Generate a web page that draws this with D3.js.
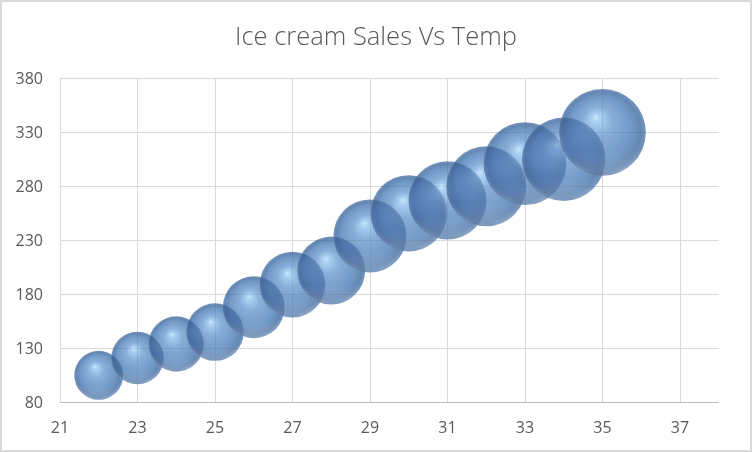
<!DOCTYPE html>
<html>
<head>
<meta charset="utf-8">
<script src="https://cdn.jsdelivr.net/npm/d3@7"></script>
<style>
  body { margin: 0; background: #fff; }
  svg { display: block; }
  .bubble-shade { mix-blend-mode: multiply; }
</style>
</head>
<body>
<script>
// ice cream data: temperature vs sales, bubble size = sales
const temps = [22, 23, 24, 25, 26, 27, 28, 29, 30, 31, 32, 33, 34, 35];
const sales = [105, 121, 134, 145, 168, 189, 202, 234, 255, 267, 280, 301, 305, 330];
const xTicks = [21, 23, 25, 27, 29, 31, 33, 35, 37];
const yTicks = [80, 130, 180, 230, 280, 330, 380];
const title = "Ice cream Sales Vs Temp";

const width = 752, height = 452;
const margin = {top: 78.3, right: 33.3, bottom: 49.7, left: 60};

const svg = d3.select("body").append("svg")
    .attr("width", width)
    .attr("height", height);

// chart border
svg.append("rect")
    .attr("x", 1).attr("y", 1)
    .attr("width", width - 2).attr("height", height - 2)
    .attr("fill", "#fff")
    .attr("stroke", "#d9d9d9")
    .attr("stroke-width", 2);

const x = d3.scaleLinear()
    .domain([21, 38])
    .range([margin.left, width - margin.right]);

const y = d3.scaleLinear()
    .domain([80, 380])
    .range([height - margin.bottom, margin.top]);

const r = d3.scaleSqrt()
    .domain([0, d3.max(sales)])
    .range([0, 43.4]);

const defs = svg.append("defs");
const grad = defs.append("radialGradient")
    .attr("id", "ball")
    .attr("cx", "50%").attr("cy", "50%").attr("r", "50%")
    .attr("fx", "42%").attr("fy", "32%");
[
  [0, "#cbe8ff"],
  [0.1, "#aacff2"],
  [0.35, "#88aed8"],
  [0.7, "#739ac8"],
  [0.9, "#6487b3"],
  [1, "#7896bb"]
].forEach(s => grad.append("stop").attr("offset", s[0]).attr("stop-color", s[1]));

const rim = defs.append("linearGradient")
    .attr("id", "rim")
    .attr("x1", 0).attr("y1", 0).attr("x2", 0).attr("y2", 1);
rim.append("stop").attr("offset", 0.7).attr("stop-color", "#fff").attr("stop-opacity", 0);
rim.append("stop").attr("offset", 0.93).attr("stop-color", "#fff").attr("stop-opacity", 0.15);
rim.append("stop").attr("offset", 1).attr("stop-color", "#fff").attr("stop-opacity", 0.05);

// gridlines
const grid = svg.append("g").attr("stroke", "#d9d9d9").attr("stroke-width", 1);
grid.selectAll("line.h")
    .data(yTicks)
    .join("line")
    .attr("class", "h")
    .attr("x1", margin.left)
    .attr("x2", width - margin.right)
    .attr("y1", d => Math.round(y(d)) + 0.5)
    .attr("y2", d => Math.round(y(d)) + 0.5);
grid.selectAll("line.v")
    .data(xTicks)
    .join("line")
    .attr("class", "v")
    .attr("x1", d => Math.round(x(d)) + 0.5)
    .attr("x2", d => Math.round(x(d)) + 0.5)
    .attr("y1", margin.top)
    .attr("y2", height - margin.bottom);

// x axis line
svg.append("line")
    .attr("x1", margin.left)
    .attr("x2", width - margin.right)
    .attr("y1", Math.round(y(80)) + 0.5)
    .attr("y2", Math.round(y(80)) + 0.5)
    .attr("stroke", "#bfbfbf");

// tick labels
svg.append("g")
    .selectAll("text")
    .data(yTicks)
    .join("text")
    .attr("x", margin.left - 17)
    .attr("y", d => y(d))
    .attr("dy", "0.36em")
    .attr("text-anchor", "end")
    .attr("font-family", "'Open Sans', sans-serif")
    .attr("font-size", 16)
    .attr("fill", "#595959")
    .text(d => d);

svg.append("g")
    .selectAll("text")
    .data(xTicks)
    .join("text")
    .attr("x", d => x(d))
    .attr("y", height - margin.bottom + 25.4)
    .attr("dy", "0.36em")
    .attr("text-anchor", "middle")
    .attr("font-family", "'Open Sans', sans-serif")
    .attr("font-size", 16)
    .attr("fill", "#595959")
    .text(d => d);

// bubbles
const data = temps.map((t, i) => ({temp: t, sales: sales[i]}));
const bubble = svg.append("g")
    .selectAll("g")
    .data(data)
    .join("g");

bubble.append("circle")
    .attr("cx", d => x(d.temp))
    .attr("cy", d => y(d.sales))
    .attr("r", d => r(d.sales))
    .attr("fill", "#fff")
    .attr("fill-opacity", 0.5);

bubble.append("circle")
    .attr("class", "bubble-shade")
    .attr("cx", d => x(d.temp))
    .attr("cy", d => y(d.sales))
    .attr("r", d => r(d.sales))
    .attr("fill", "url(#ball)");

bubble.append("circle")
    .attr("cx", d => x(d.temp))
    .attr("cy", d => y(d.sales))
    .attr("r", d => r(d.sales))
    .attr("fill", "url(#rim)");

// title
svg.append("text")
    .attr("x", width / 2)
    .attr("y", 45)
    .attr("text-anchor", "middle")
    .attr("font-family", "'Open Sans', sans-serif")
    .attr("font-weight", 300)
    .attr("font-size", 25.5)
    .attr("fill", "#595959")
    .text(title);
</script>
</body>
</html>
